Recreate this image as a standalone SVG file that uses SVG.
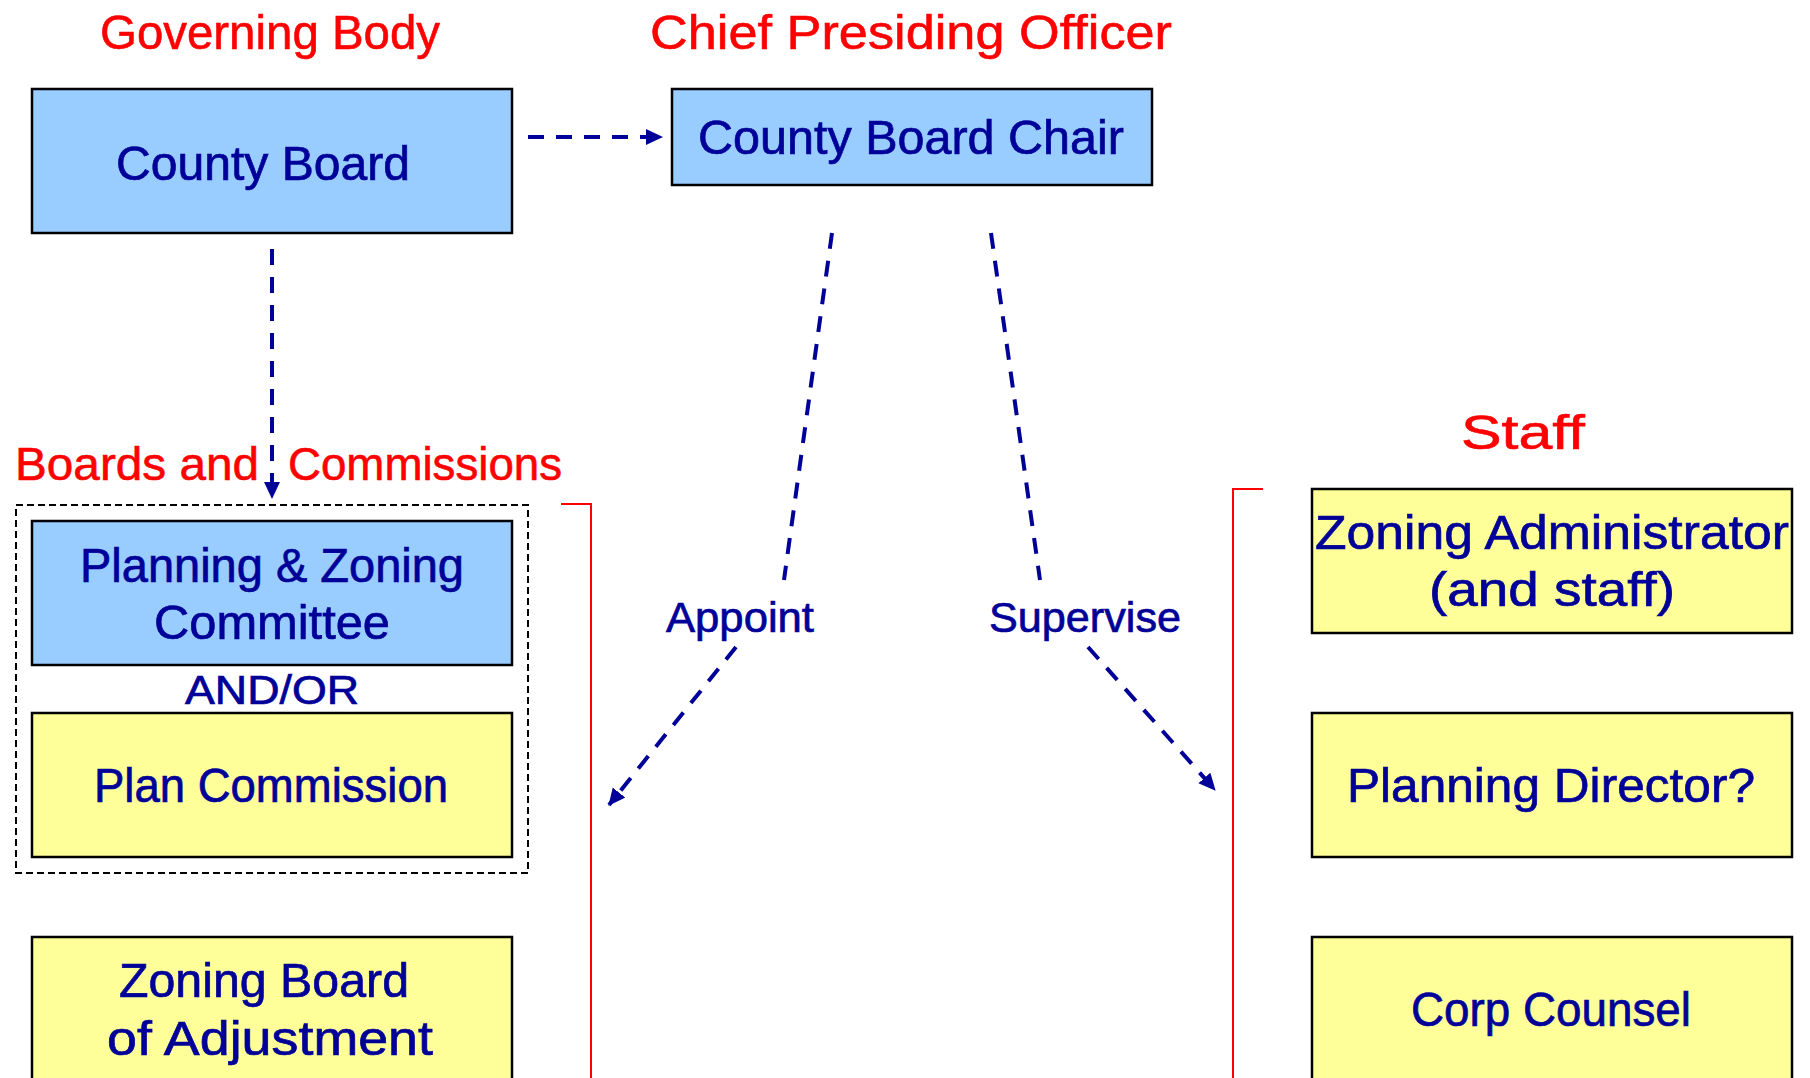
<svg xmlns="http://www.w3.org/2000/svg" width="1810" height="1078" viewBox="0 0 1810 1078">
<defs>
<style>
.box{stroke:#000;stroke-width:2.5}
.blue{fill:#99CCFF}
.yel{fill:#FFFF99}
.t{font-family:"Liberation Sans",Arial,sans-serif;fill:#000099;stroke:#000099;stroke-width:0.7;text-anchor:middle}
.h{font-family:"Liberation Sans",Arial,sans-serif;fill:#FF0000;stroke:#FF0000;stroke-width:0.6;text-anchor:middle}
.c{stroke:#000099;stroke-width:4;fill:none;stroke-dasharray:16 12}
.br{stroke:#FF0000;stroke-width:2;fill:none}
</style>
<marker id="ah" markerUnits="userSpaceOnUse" markerWidth="20" markerHeight="18" refX="16" refY="8" orient="auto">
<path d="M0,0 L17,8 L0,16 Z" fill="#000099"/>
</marker>
</defs>
<rect width="1810" height="1078" fill="#fff"/>

<g id="headings">
<text class="h" x="270" y="49" font-size="49" textLength="340" lengthAdjust="spacingAndGlyphs">Governing Body</text>
<text class="h" x="911" y="49" font-size="49" textLength="522" lengthAdjust="spacingAndGlyphs">Chief Presiding Officer</text>
<text class="h" y="480" font-size="47"><tspan x="137" textLength="244" lengthAdjust="spacingAndGlyphs">Boards and</tspan><tspan x="425" textLength="274" lengthAdjust="spacingAndGlyphs">Commissions</tspan></text>
<text class="h" x="1523" y="449" font-size="49" textLength="124" lengthAdjust="spacingAndGlyphs">Staff</text>
</g>

<g id="brackets">
<path class="br" d="M561,504 H591 V1078"/>
<path class="br" d="M1263,489 H1233 V1078"/>
</g>

<g id="county-board">
<rect class="box blue" x="32" y="89" width="480" height="144"/>
<text class="t" x="263" y="180" font-size="49" textLength="294" lengthAdjust="spacingAndGlyphs">County Board</text>
</g>

<g id="county-board-chair">
<rect class="box blue" x="672" y="89" width="480" height="96"/>
<text class="t" x="911" y="154" font-size="49" textLength="426" lengthAdjust="spacingAndGlyphs">County Board Chair</text>
</g>

<g id="boards-group">
<rect x="16" y="505" width="512" height="368" fill="none" stroke="#000" stroke-width="2" stroke-dasharray="7 4"/>
</g>

<g id="planning-zoning-committee">
<rect class="box blue" x="32" y="521" width="480" height="144"/>
<text class="t" x="272" y="582" font-size="49" textLength="384" lengthAdjust="spacingAndGlyphs">Planning &amp; Zoning</text>
<text class="t" x="272" y="639" font-size="49" textLength="236" lengthAdjust="spacingAndGlyphs">Committee</text>
</g>

<g id="and-or">
<text class="t" x="272" y="704" font-size="40" textLength="174" lengthAdjust="spacingAndGlyphs">AND/OR</text>
</g>

<g id="plan-commission">
<rect class="box yel" x="32" y="713" width="480" height="144"/>
<text class="t" x="271" y="802" font-size="49" textLength="354" lengthAdjust="spacingAndGlyphs">Plan Commission</text>
</g>

<g id="zoning-board-of-adjustment">
<rect class="box yel" x="32" y="937" width="480" height="160"/>
<text class="t" x="264" y="997" font-size="49" textLength="290" lengthAdjust="spacingAndGlyphs">Zoning Board</text>
<text class="t" x="270" y="1055" font-size="49" textLength="326" lengthAdjust="spacingAndGlyphs">of Adjustment</text>
</g>

<g id="zoning-administrator">
<rect class="box yel" x="1312" y="489" width="480" height="144"/>
<text class="t" x="1552" y="549" font-size="49" textLength="474" lengthAdjust="spacingAndGlyphs">Zoning Administrator</text>
<text class="t" x="1552" y="606" font-size="49" textLength="246" lengthAdjust="spacingAndGlyphs">(and staff)</text>
</g>

<g id="planning-director">
<rect class="box yel" x="1312" y="713" width="480" height="144"/>
<text class="t" x="1551" y="802" font-size="49" textLength="408" lengthAdjust="spacingAndGlyphs">Planning Director?</text>
</g>

<g id="corp-counsel">
<rect class="box yel" x="1312" y="937" width="480" height="160"/>
<text class="t" x="1551" y="1026" font-size="49" textLength="280" lengthAdjust="spacingAndGlyphs">Corp Counsel</text>
</g>

<g id="connectors">
<line class="c" x1="528" y1="137" x2="662" y2="137" marker-end="url(#ah)"/>
<line class="c" x1="272" y1="249" x2="272" y2="498" marker-end="url(#ah)"/>
<line class="c" x1="832" y1="233" x2="784" y2="580"/>
<line class="c" x1="736" y1="647" x2="609" y2="805" marker-end="url(#ah)"/>
<line class="c" x1="991" y1="233" x2="1040" y2="580"/>
<line class="c" x1="1088" y1="647" x2="1215" y2="790" marker-end="url(#ah)"/>
<text class="t" x="740" y="632" font-size="43" textLength="148" lengthAdjust="spacingAndGlyphs">Appoint</text>
<text class="t" x="1085" y="632" font-size="43" textLength="192" lengthAdjust="spacingAndGlyphs">Supervise</text>
</g>
</svg>
